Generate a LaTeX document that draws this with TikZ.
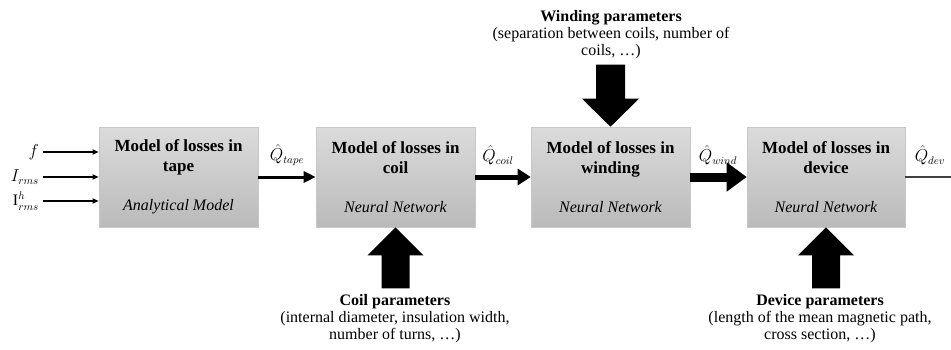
\documentclass[tikz,border=0pt]{standalone}
\usepackage{fontspec}
\setmainfont{Liberation Serif}
\usetikzlibrary{arrows.meta,calc}
\begin{document}
\begin{tikzpicture}[x=1pt,y=-1pt,
  model/.style={draw=black!22, line width=0.6pt, top color=black!14, bottom color=black!27,
    minimum width=159pt, minimum height=100pt, inner sep=0pt, align=center,
    font=\fontsize{17}{20}\selectfont},
  qlab/.style={font=\fontsize{16}{17}\selectfont, inner sep=1pt},
  inlab/.style={font=\fontsize{16}{17}\selectfont, anchor=east, inner sep=1pt},
  inarrow/.style={line width=1.3pt, -{Triangle[length=6pt,width=5pt]}},
  param/.style={align=center, font=\fontsize{16}{17}\selectfont, inner sep=0pt},
  blockarrow/.style={fill=black}
]
\useasboundingbox (0,0) rectangle (951,349);

% boxes
\node[model] (b1) at (178.5,177) {\textbf{Model of losses in}\\\textbf{tape}\\[19pt]{\fontsize{16}{17}\selectfont\itshape Analytical Model}};
\node[model] (b2) at (395.5,177) {\textbf{Model of losses in}\\\textbf{coil}\\[19pt]{\fontsize{16}{17}\selectfont\itshape Neural Network}};
\node[model] (b3) at (610.5,177) {\textbf{Model of losses in}\\\textbf{winding}\\[19pt]{\fontsize{16}{17}\selectfont\itshape Neural Network}};
\node[model, minimum width=158pt] (b4) at (826,177) {\textbf{Model of losses in}\\\textbf{device}\\[19pt]{\fontsize{16}{17}\selectfont\itshape Neural Network}};

% inputs
\coordinate (in1) at (43,152);
\coordinate (in2) at (43,177);
\coordinate (in3) at (43,201);
\node[inlab] (lf) at (40,152) {$f$};
\node[inlab] (li) at (40,177) {$I_{rms}$};
\node[inlab] (lh) at (40,201) {$\mathrm{I}^{h}_{rms}$};
\draw[inarrow] (in1) -- (in1 -| b1.west);
\draw[inarrow] (in2) -- (in2 -| b1.west);
\draw[inarrow] (in3) -- (in3 -| b1.west);

% connectors between boxes
\draw[line width=3pt, -{Triangle[length=12pt,width=11pt]}] (b1.east) -- (b2.west);
\draw[line width=5pt, -{Triangle[length=13pt,width=16pt]}] (b2.east) -- (b3.west);
\draw[line width=9pt, -{Triangle[length=20pt,width=28pt]}] (b3.east) -- (b4.west);
\coordinate (out) at (951,177);
\draw[line width=2pt, black!75] (b4.east) -- (out);

% labels
\node[qlab] (q1) at (287,155) {$\hat{Q}_{tape}$};
\node[qlab] (q2) at (498,155) {$\hat{Q}_{coil}$};
\node[qlab] (q3) at (718,155) {$\hat{Q}_{wind}$};
\node[qlab] (q4) at (930,155) {$\hat{Q}_{dev}$};

% block arrows
\fill[blockarrow] (b3.north) -- ++(-28.5,-28) -- ++(14,0) -- ++(0,-34) -- ++(29,0) -- ++(0,34) -- ++(14,0) -- cycle;
\fill[blockarrow] (b2.south) -- ++(-28,28) -- ++(14,0) -- ++(0,33) -- ++(28,0) -- ++(0,-33) -- ++(14,0) -- cycle;
\fill[blockarrow] (b4.south) -- ++(-28,28) -- ++(14,0) -- ++(0,33) -- ++(28,0) -- ++(0,-33) -- ++(14,0) -- cycle;

% parameter texts
\node[param] (pw) at (611,35) {\textbf{Winding parameters}\\(separation between coils, number of\\coils, \dots)};
\node[param] (pc) at (395,319) {\textbf{Coil parameters}\\(internal diameter, insulation width,\\number of turns, \dots)};
\node[param] (pd) at (820,319) {\textbf{Device parameters}\\(length of the mean magnetic path,\\cross section, \dots)};
\end{tikzpicture}
\end{document}
